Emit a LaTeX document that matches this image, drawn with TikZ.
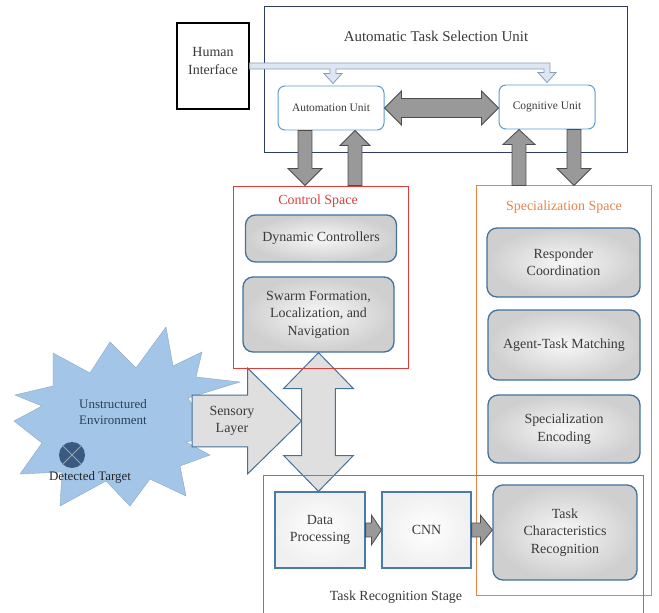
\documentclass[tikz,border=0pt]{standalone}
\usepackage{fontspec}
\setmainfont{Liberation Serif}
\usetikzlibrary{calc}

\definecolor{txt}{HTML}{3A3A3A}
\definecolor{navy}{HTML}{2F3B6B}
\definecolor{unitblue}{HTML}{5B9BD5}
\definecolor{modblue}{HTML}{41719C}
\definecolor{ctrlred}{HTML}{E03C3C}
\definecolor{specorange}{HTML}{E6844A}
\definecolor{stageolive}{HTML}{76876A}
\definecolor{starblue}{HTML}{A3C6E8}
\definecolor{targetblue}{HTML}{3B5A80}
\definecolor{hollowfill}{HTML}{DDE7F4}
\definecolor{hollowline}{HTML}{8A9BB5}

\pgfdeclarelayer{back}
\pgfsetlayers{back,main}

\newcommand\fmain{\fontsize{14}{17.5}\selectfont}
\newcommand\fsmall{\fontsize{11.5}{13}\selectfont}

% block arrow: style, from, to, shaft half, head half, head length
\newcommand\blockarrow[6]{%
  \path[#1] let \p1=(#2), \p2=(#3), \n1={atan2(\y2-\y1,\x2-\x1)}, \n2={veclen(\x2-\x1,\y2-\y1)} in
    {[shift={(\p1)}, rotate=\n1] (0pt,-#4pt) -- (\n2-#6pt,-#4pt) -- (\n2-#6pt,-#5pt) -- (\n2+0pt,0pt)
      -- (\n2-#6pt,#5pt) -- (\n2-#6pt,#4pt) -- (0pt,#4pt) -- cycle};}
% two headed block arrow, same arguments
\newcommand\dblarrow[6]{%
  \path[#1] let \p1=(#2), \p2=(#3), \n1={atan2(\y2-\y1,\x2-\x1)}, \n2={veclen(\x2-\x1,\y2-\y1)} in
    {[shift={(\p1)}, rotate=\n1] (0pt,0pt) -- (#6pt,#5pt) -- (#6pt,#4pt) -- (\n2-#6pt,#4pt) -- (\n2-#6pt,#5pt)
      -- (\n2+0pt,0pt) -- (\n2-#6pt,-#5pt) -- (\n2-#6pt,-#4pt) -- (#6pt,-#4pt) -- (#6pt,-#5pt) -- cycle};}

\tikzset{
  plainbox/.style={draw=black, line width=1.2pt, fill=white, align=center},
  group/.style={line width=1pt, fill=none},
  unitbox/.style={draw=unitblue, line width=1pt, rounded corners=7bp, fill=white, font=\fsmall},
  module/.style={draw=modblue, line width=1.3pt, rounded corners=10bp, inner color=gray!6, outer color=gray!38, align=center},
  flatbox/.style={draw=unitblue!80!black, line width=1.2pt, inner color=white, outer color=gray!12, align=center},
  darkarrow/.style={fill=gray!80!white, draw=gray!60!black, line width=0.8pt},
  lightarrow/.style={fill=gray!25, draw=modblue, line width=1pt},
  hollowarrow/.style={fill=hollowfill, draw=hollowline, line width=0.8pt},
}

\begin{document}
\begin{tikzpicture}[x=1bp, y=-1bp, font=\fmain, text=txt]
  \useasboundingbox (0,0) rectangle (659,613);

  % selection unit
  \node[group, draw=navy, minimum width=363bp, minimum height=145bp] (atsu) at (445.5,79.5) {};
  \node[font=\fontsize{15}{18}\selectfont] (atsutitle) at (436,36) {Automatic Task Selection Unit};
  \node[plainbox, minimum width=72bp, minimum height=86bp,
        label={[align=center, yshift=5bp, name=hitext]center:{Human\\Interface}}] (hi) at (213,66) {};
  \node[unitbox, minimum width=106bp, minimum height=44bp] (auto) at (331,108) {Automation Unit};
  \node[unitbox, minimum width=96bp, minimum height=44bp] (cog) at (547,107) {Cognitive Unit};

  \path[hollowarrow] let \p1=(hi.east), \p2=(auto.north), \p3=(cog.north) in
    (\x1,\y1+3pt) -- (\x3+3pt,\y1+3pt) -- (\x3+3pt,\y3+12pt) -- (\x3+9pt,\y3+12pt) -- (\x3,\y3+2pt)
    -- (\x3-9pt,\y3+12pt) -- (\x3-3pt,\y3+12pt) -- (\x3-3pt,\y1-3pt) -- (\x2+5pt,\y1-3pt)
    -- (\x2+5pt,\y2+12pt) -- (\x2+11pt,\y2+12pt) -- (\x2+2pt,\y2+2pt) -- (\x2-7pt,\y2+12pt)
    -- (\x2-1pt,\y2+12pt) -- (\x2-1pt,\y1-3pt) -- (\x1,\y1-3pt) -- cycle;

  \dblarrow{darkarrow}{auto.east}{auto.east -| cog.west}{9.5}{17}{17}

  % control space
  \node[group, draw=ctrlred, minimum width=175bp, minimum height=182bp] (ctrl) at (320.5,277) {};
  \node[text=ctrlred] (ctrltitle) at (318,201) {Control Space};
  \node[module, minimum width=151bp, minimum height=47bp] (dyn) at (321,238.5) {Dynamic Controllers};
  \node[module, minimum width=151bp, minimum height=75bp] (swarm) at (318.5,314.5) {Swarm Formation,\\Localization, and\\Navigation};

  % specialization space
  \node[group, draw=specorange, minimum width=175bp, minimum height=409bp] (spec) at (563.5,390.5) {};
  \node[text=specorange] (spectitle) at (564,207) {Specialization Space};
  \node[module, minimum width=153bp, minimum height=69bp] (resp) at (563.5,262.5) {Responder\\Coordination};
  \node[module, minimum width=152bp, minimum height=70bp] (match) at (564,345) {Agent-Task Matching};
  \node[module, minimum width=152bp, minimum height=68bp] (enc) at (564,429) {Specialization\\Encoding};

  % links to the selection unit
  \coordinate (adown) at ($(auto.south)+(-26,0)$);
  \coordinate (aup) at ($(auto.south)+(24,0)$);
  \coordinate (cup) at ($(cog.south)+(-28,0)$);
  \coordinate (cdown) at ($(cog.south)+(27,0)$);
  \blockarrow{darkarrow}{adown}{adown |- ctrl.north}{7}{17}{17}
  \blockarrow{darkarrow}{aup |- ctrl.north}{aup}{7}{15}{15}
  \blockarrow{darkarrow}{cup |- spec.north}{cup}{7}{16}{15}
  \blockarrow{darkarrow}{cdown}{cdown |- spec.north}{7}{17}{17}

  % recognition stage
  \draw[stageolive, line width=1pt] (263,615) |- (643,475) -- (643,615);
  \node (stagetitle) at (396,597) {Task Recognition Stage};
  \node[flatbox, minimum width=90bp, minimum height=76bp] (dp) at (320,530) {Data\\Processing};
  \node[flatbox, minimum width=89bp, minimum height=76bp] (cnn) at (426.5,530) {CNN};
  \node[module, minimum width=144bp, minimum height=95bp] (tcr) at (565,532.5) {Task\\Characteristics\\Recognition};
  \blockarrow{darkarrow}{dp.east}{cnn.west}{7}{15}{10}
  \blockarrow{darkarrow}{cnn.east}{cnn.east -| tcr.west}{7}{15}{12}

  % environment and sensing
  \begin{pgfonlayer}{back}
    \fill[white] (0,0) rectangle (659,613);
    \fill[starblue, draw=starblue!85!black, line width=0.4pt]
      (166,327) -- (173,366) -- (202,352) -- (196,377) -- (240,382) -- (188,398) -- (212,436)
      -- (186,442) -- (210,455) -- (180,466) -- (186,496) -- (150,479) -- (130,506) -- (106,481)
      -- (60,506) -- (62,472) -- (20,474) -- (42,443) -- (14,421) -- (42,406) -- (15,395)
      -- (53,386) -- (53,353) -- (90,373) -- (110,342) -- (136,368) -- cycle;
    \coordinate (sensein) at (192,421);
    \coordinate (senseout) at ($(sensein -| swarm.south)+(-17,0)$);
    \dblarrow{lightarrow}{swarm.south}{swarm.south |- dp.north}{17}{35}{36}
    \blockarrow{lightarrow}{sensein}{senseout}{26}{53}{54}
  \end{pgfonlayer}
  \node[align=center] (sensory) at (232,421) {Sensory\\Layer};
  \node[align=center, font=\fontsize{13}{16}\selectfont, text=targetblue!70!black] (env) at (113,412) {Unstructured\\Environment};
  \node[circle, fill=targetblue, minimum size=26bp, inner sep=0pt] (target) at (72,455) {};
  \draw[targetblue!55!white, line width=1pt] (target.45) -- (target.225) (target.135) -- (target.315);
  \node[font=\fontsize{13}{16}\selectfont, text=black!85] (targetlabel) at (90,477) {Detected Target};
\end{tikzpicture}
\end{document}
